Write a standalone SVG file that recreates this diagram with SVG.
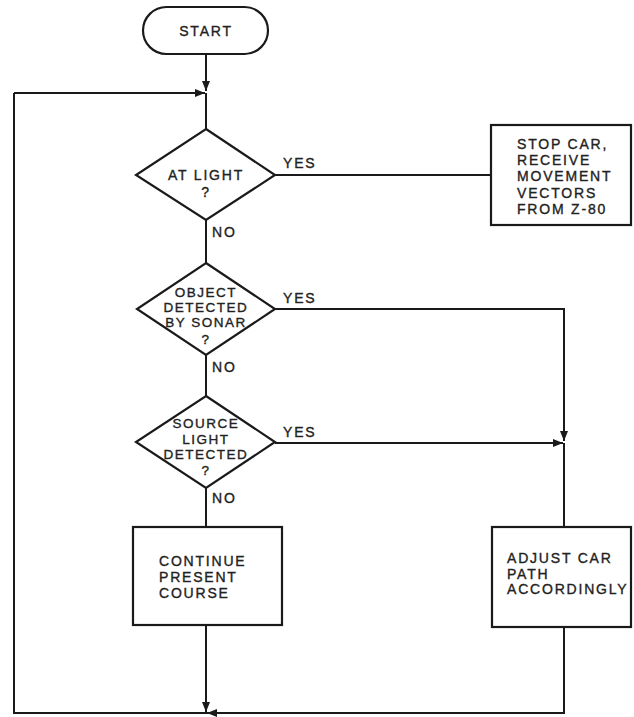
<svg xmlns="http://www.w3.org/2000/svg" width="634" height="717" viewBox="0 0 634 717">
<style>
.s{fill:#fff;stroke:#1a1a1a;stroke-width:2.2}
.c{fill:none;stroke:#1a1a1a;stroke-width:2}
text{font-family:"Liberation Sans",Arial,sans-serif;font-size:14px;fill:#222;stroke:#222;stroke-width:0.35;letter-spacing:1.8px}
.m{text-anchor:middle}
.d{font-size:13.5px;letter-spacing:1.5px}
</style>
<defs>
<marker id="b" viewBox="0 0 10 10" refX="10" refY="5" markerWidth="16" markerHeight="10" orient="auto" markerUnits="userSpaceOnUse">
<path d="M0,1 L10,5 L0,9 z" fill="#1a1a1a"/>
</marker>
</defs>
<rect width="634" height="717" fill="#fff"/>
<g id="connectors">
<path class="c" d="M206,54 V91" marker-end="url(#b)"/>
<path class="c" d="M14,93 H205" marker-end="url(#b)"/>
<path class="c" d="M206,93 V129"/>
<path class="c" d="M275,175 H491"/>
<path class="c" d="M206,220 V263"/>
<path class="c" d="M275,309 H564 V441" marker-end="url(#b)"/>
<path class="c" d="M206,355 V396"/>
<path class="c" d="M275,443 H563" marker-end="url(#b)"/>
<path class="c" d="M206,488 V527"/>
<path class="c" d="M564,443 V527"/>
<path class="c" d="M206,625 V712" marker-end="url(#b)"/>
<path class="c" d="M564,627 V713 H14 V93"/>
<path class="c" d="M225,713 H207" marker-end="url(#b)"/>
</g>
<g id="start">
<rect class="s" x="143" y="7" width="125" height="47" rx="23.5"/>
<text class="m" x="206" y="36">START</text>
</g>
<g id="d1">
<polygon class="s" points="206,129 275,175 206,220 136,175"/>
<text class="m" x="206" y="180">AT LIGHT</text>
<text class="m" x="206" y="197">?</text>
<text x="283" y="168">YES</text>
<text x="212" y="237">NO</text>
</g>
<g id="stop">
<rect class="s" x="491" y="125" width="140" height="100"/>
<text x="517" y="149">STOP CAR,</text>
<text x="517" y="165">RECEIVE</text>
<text x="517" y="181">MOVEMENT</text>
<text x="517" y="198">VECTORS</text>
<text x="517" y="214">FROM Z-80</text>
</g>
<g id="d2">
<polygon class="s" points="206,263 275,309 206,355 137,309"/>
<text class="m d" x="206" y="297">OBJECT</text>
<text class="m d" x="206" y="312">DETECTED</text>
<text class="m d" x="206" y="327">BY SONAR</text>
<text class="m d" x="206" y="344">?</text>
<text x="283" y="303">YES</text>
<text x="212" y="372">NO</text>
</g>
<g id="d3">
<polygon class="s" points="206,396 275,442 206,488 136,442"/>
<text class="m d" x="206" y="428">SOURCE</text>
<text class="m d" x="206" y="444">LIGHT</text>
<text class="m d" x="206" y="459">DETECTED</text>
<text class="m d" x="206" y="475">?</text>
<text x="283" y="437">YES</text>
<text x="212" y="503">NO</text>
</g>
<g id="continue">
<rect class="s" x="133" y="527" width="149" height="98"/>
<text x="159" y="566">CONTINUE</text>
<text x="159" y="582">PRESENT</text>
<text x="159" y="598">COURSE</text>
</g>
<g id="adjust">
<rect class="s" x="492" y="527" width="139" height="100"/>
<text x="507" y="563">ADJUST CAR</text>
<text x="507" y="579">PATH</text>
<text x="507" y="594">ACCORDINGLY</text>
</g>
</svg>
